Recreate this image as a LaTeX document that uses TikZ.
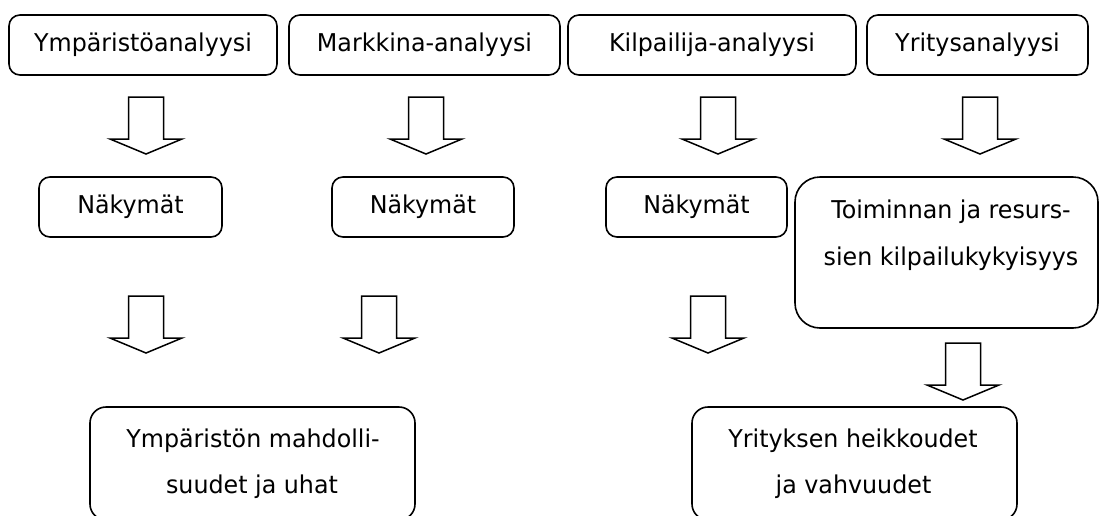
\documentclass[tikz,border=0pt]{standalone}
\usepackage{fontspec}
\setmainfont{DejaVu Sans}[FakeStretch=0.97]
\begin{document}
\begin{tikzpicture}[x=1pt,y=-1pt,
  txt/.style={font=\fontsize{24.5}{47}\selectfont, inner sep=0pt},
  box/.style={draw, line width=1.6pt, rounded corners=11pt, inner sep=0pt, txt},
  bigbox/.style={box, rounded corners=25pt},
  lowbox/.style={box, rounded corners=16pt},
  arrowline/.style={draw, line width=1.5pt, line join=miter},
  pics/downarrow/.style={code={\draw[arrowline] (-17.5,0) -- (17.5,0) -- (17.5,42) -- (36,42) -- (0,57) -- (-36,42) -- (-17.5,42) -- cycle;}}]
\useasboundingbox (0,0) rectangle (1100,515);
\clip (0,0) rectangle (1100,515);
% top row
\node[box, minimum width=268, minimum height=60] (ymp) at (143,45) {Ympäristöanalyysi};
\node[box, minimum width=271, minimum height=60] (mark) at (424.5,45) {Markkina-analyysi};
\node[box, minimum width=288, minimum height=60] (kilp) at (712,45) {Kilpailija-analyysi};
\node[box, minimum width=221, minimum height=60] (yrit) at (977.5,45) {Yritysanalyysi};
% arrows row 1
\pic (a1) at (146,97) {downarrow};
\pic (a2) at (426,97) {downarrow};
\pic (a3) at (718,97) {downarrow};
\pic (a4) at (980,97) {downarrow};
% second row
\node[box, minimum width=183, minimum height=60] (nak1) at (130.5,207) {Näkymät};
\node[box, minimum width=182, minimum height=60] (nak2) at (423,207) {Näkymät};
\node[box, minimum width=181, minimum height=60] (nak3) at (696.5,207) {Näkymät};
\node[bigbox, minimum width=303, minimum height=151] (toim) at (946.5,252.5) {};
\node[txt, anchor=base] (toimA) at (951,218) {Toiminnan ja resurs-};
\node[txt, anchor=base] (toimB) at (951,265) {sien kilpailukykyisyys};
% arrows row 2
\pic (b1) at (146,296) {downarrow};
\pic (b2) at (379,296) {downarrow};
\pic (b3) at (708,296) {downarrow};
\pic (b4) at (963,343) {downarrow};
% bottom row
\node[lowbox, minimum width=325, minimum height=113] (mahd) at (252.5,463.5) {};
\node[txt, anchor=base] (mahdA) at (253,447) {Ympäristön mahdolli-};
\node[txt, anchor=base] (mahdB) at (252,493) {suudet ja uhat};
\node[lowbox, minimum width=325, minimum height=113] (heik) at (854.5,463.5) {};
\node[txt, anchor=base] (heikA) at (853,447) {Yrityksen heikkoudet};
\node[txt, anchor=base] (heikB) at (853.5,493) {ja vahvuudet};
\end{tikzpicture}
\end{document}
